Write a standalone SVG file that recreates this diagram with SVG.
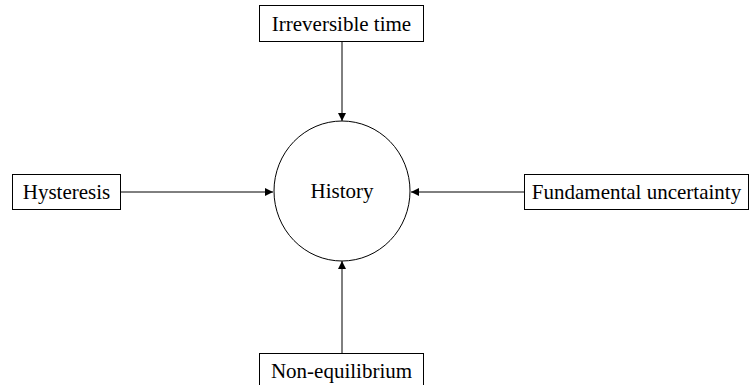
<svg xmlns="http://www.w3.org/2000/svg" width="750" height="385" viewBox="0 0 750 385">
<style>
.box{fill:#fff;stroke:#000;stroke-width:1}
.t{font-family:'Liberation Serif','Times New Roman',serif;font-size:21px;fill:#000;text-anchor:middle}
.e{stroke:#000;stroke-width:1;fill:none;marker-end:url(#ah)}
</style>
<defs>
<marker id="ah" viewBox="0 0 10 10" refX="10" refY="5" markerWidth="8" markerHeight="8" markerUnits="userSpaceOnUse" orient="auto">
<path d="M0,0 L10,5 L0,10 z" fill="#000"/>
</marker>
</defs>
<rect width="750" height="385" fill="#fff"/>
<g id="connectors">
<line class="e" x1="342" y1="41" x2="342" y2="121"/>
<line class="e" x1="120" y1="192" x2="273" y2="192"/>
<line class="e" x1="524" y1="192" x2="411" y2="192"/>
<line class="e" x1="342" y1="353" x2="342" y2="261"/>
</g>
<g id="history">
<ellipse cx="342" cy="191" rx="68" ry="70" fill="#fff" stroke="#000" stroke-width="1"/>
<text class="t" x="342" y="198">History</text>
</g>
<g id="irreversible">
<rect class="box" x="259.5" y="5.5" width="164" height="36"/>
<text class="t" x="341.5" y="30.5">Irreversible time</text>
</g>
<g id="hysteresis">
<rect class="box" x="12.5" y="174.5" width="108" height="35"/>
<text class="t" x="66.5" y="199">Hysteresis</text>
</g>
<g id="fundamental">
<rect class="box" x="524.5" y="174.5" width="224" height="35"/>
<text class="t" x="636.5" y="199">Fundamental uncertainty</text>
</g>
<g id="nonequilibrium">
<rect class="box" x="259.5" y="353.5" width="164" height="36"/>
<text class="t" x="341.5" y="378">Non-equilibrium</text>
</g>
</svg>
